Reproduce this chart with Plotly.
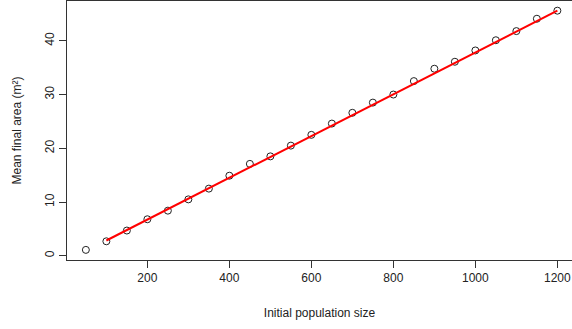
import plotly.graph_objects as go

# Data
pop_size = [50, 100, 150, 200, 250, 300, 350, 400, 450, 500, 550, 600,
            650, 700, 750, 800, 850, 900, 950, 1000, 1050, 1100, 1150, 1200]
mean_area = [1.1, 2.7, 4.7, 6.8, 8.4, 10.5, 12.5, 14.9, 17.1, 18.5, 20.5, 22.5,
             24.6, 26.6, 28.5, 30.0, 32.5, 34.8, 36.1, 38.2, 40.1, 41.8, 44.1, 45.6]
fit_x = [100, 1200]
fit_y = [2.85, 45.6]
x_ticks = [200, 400, 600, 800, 1000, 1200]
y_ticks = [0, 10, 20, 30, 40]

FONT = "Liberation Sans, Arial, Helvetica, sans-serif"

fig = go.Figure()
fig.add_trace(go.Scatter(
    x=pop_size, y=mean_area, mode="markers",
    marker=dict(symbol="circle-open", size=7, color="#222222", line=dict(width=1, color="#222222")),
    showlegend=False, hoverinfo="skip"))
fig.add_trace(go.Scatter(
    x=fit_x, y=fit_y, mode="lines",
    line=dict(color="#ff0000", width=2),
    showlegend=False, hoverinfo="skip"))

fig.update_layout(
    width=572, height=329,
    margin=dict(l=67, r=0, t=1, b=69),
    paper_bgcolor="white", plot_bgcolor="white",
    font=dict(family=FONT, size=12, color="#222222"),
    xaxis=dict(
        range=[4, 1235.7], tickvals=x_ticks, ticktext=[str(v) for v in x_ticks],
        showgrid=False, zeroline=False, showline=True, linecolor="#333333", linewidth=1,
        mirror=True, ticks="outside", ticklen=7, tickcolor="#333333",
        tickfont=dict(size=12, family=FONT, color="#222222"),
        title=dict(text="Initial population size", standoff=24,
                   font=dict(size=12, family=FONT, color="#222222")),
    ),
    yaxis=dict(
        range=[-0.78, 47.4], tickvals=y_ticks, ticktext=[str(v) for v in y_ticks],
        tickangle=-90,
        showgrid=False, zeroline=False, showline=True, linecolor="#333333", linewidth=1,
        mirror=False, ticks="outside", ticklen=7, tickcolor="#333333",
        tickfont=dict(size=12, family=FONT, color="#222222"),
        title=dict(text="Mean final area (m²)", standoff=19,
                   font=dict(size=12, family=FONT, color="#222222")),
    ),
)

fig.write_html("out.html", config={"displayModeBar": False},
               post_script="document.body.style.margin='0';document.body.style.overflow='hidden';")
